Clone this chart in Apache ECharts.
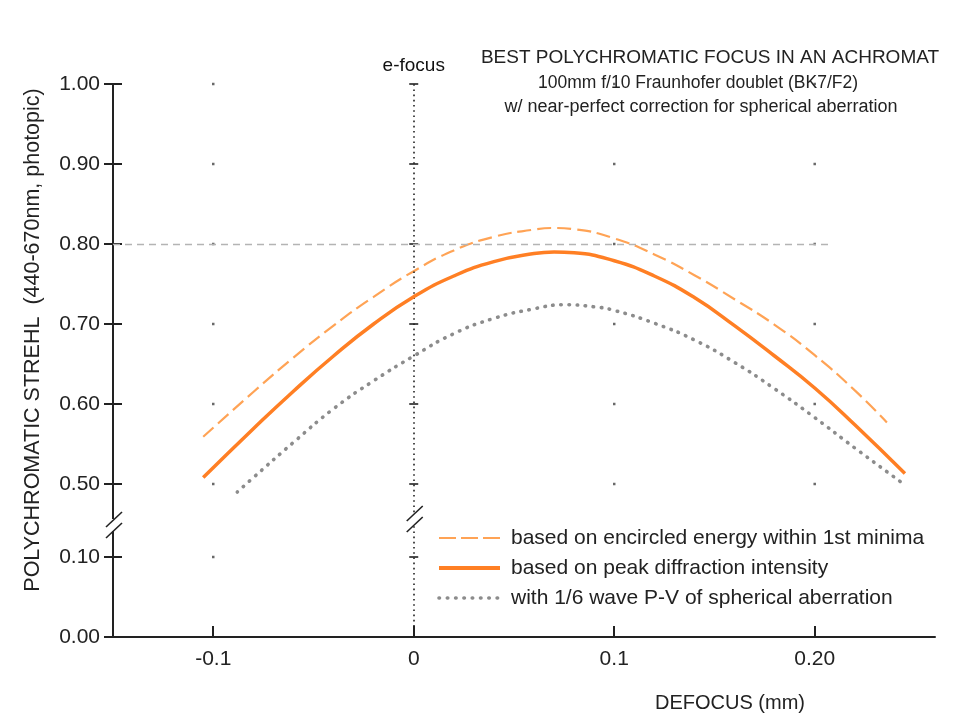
<!DOCTYPE html>
<html><head><meta charset="utf-8">
<script src="https://cdn.jsdelivr.net/npm/echarts@6/dist/echarts.min.js"></script>
<style>html,body{margin:0;padding:0;background:#fff}#c{width:953px;height:725px}</style>
</head><body><div id="c"></div>
<script>
// ---- data ----
const encX  = [-0.105, -0.08, -0.06, -0.04, -0.02, 0, 0.02, 0.04, 0.06, 0.07, 0.08, 0.10, 0.12, 0.14, 0.16, 0.18, 0.20, 0.22, 0.236];
const encY  = [0.559, 0.615, 0.658, 0.698, 0.734, 0.766, 0.792, 0.809, 0.818, 0.820, 0.8185, 0.807, 0.787, 0.761, 0.731, 0.699, 0.661, 0.617, 0.577];
const peakX = [-0.105, -0.08, -0.06, -0.04, -0.02, 0, 0.02, 0.04, 0.06, 0.07, 0.08, 0.10, 0.12, 0.14, 0.16, 0.18, 0.20, 0.22, 0.245];
const peakY = [0.508, 0.569, 0.616, 0.660, 0.700, 0.734, 0.760, 0.778, 0.788, 0.790, 0.789, 0.779, 0.760, 0.733, 0.698, 0.660, 0.620, 0.574, 0.513];
const sphX  = [-0.088, -0.08, -0.06, -0.04, -0.02, 0, 0.02, 0.04, 0.06, 0.075, 0.09, 0.10, 0.12, 0.14, 0.16, 0.18, 0.20, 0.22, 0.243];
const sphY  = [0.490, 0.508, 0.552, 0.594, 0.629, 0.660, 0.688, 0.707, 0.719, 0.724, 0.7215, 0.717, 0.701, 0.680, 0.652, 0.619, 0.583, 0.545, 0.5025];
const seriesNames = ['based on encircled energy within 1st minima', 'based on peak diffraction intensity', 'with 1/6 wave P-V of spherical aberration'];
const xTicks = [-0.1, 0, 0.1, 0.2];
const xTickLabels = ['-0.1', '0', '0.1', '0.20'];
const yTicks = [0, 0.1, 0.5, 0.6, 0.7, 0.8, 0.9, 1.0];
const yTickLabels = ['0.00', '0.10', '0.50', '0.60', '0.70', '0.80', '0.90', '1.00'];
const gridDotX = [-0.1, 0.1, 0.2];
const titleLines = ['BEST POLYCHROMATIC FOCUS IN AN ACHROMAT', '100mm f/10 Fraunhofer doublet (BK7/F2)', 'w/ near-perfect correction for spherical aberration'];
const xName = 'DEFOCUS (mm)';
const yName = 'POLYCHROMATIC STREHL  (440-670nm, photopic)';
const markerLabel = 'e-focus';
const refLine = 0.80;

// ---- broken axis transform ----
const BREAK_LO = 0.1, BREAK_HI = 0.5, GAP = 0.09125;
function d(v) { return v <= BREAK_LO ? v : v - BREAK_HI + BREAK_LO + GAP; }
const Y_MAX = d(1.0);
const FONT = '"Liberation Sans", Arial, sans-serif';
const INK = '#222';
const C_ENC = '#ffa355', C_PEAK = '#ff7f24', C_SPH = '#8c8c8c';
const ENC_DASH = [14, 6], SPH_DOT = [0.5, 7.6];

function pairs(xs, ys) { return xs.map((x, i) => [x, d(ys[i])]); }
function lookup(vals, labels) {
  return function (v) { for (let i = 0; i < vals.length; i++) if (Math.abs(vals[i] - v) < 1e-6) return labels[i]; return ''; };
}
const yTickPos = yTicks.map(d);
const yLabelFmt = lookup(yTickPos, yTickLabels);
const xLabelFmt = lookup(xTicks, xTickLabels);

const dots = [];
gridDotX.forEach(x => yTicks.filter(v => v >= BREAK_HI).forEach(v => dots.push([x, d(v)])));
dots.push([gridDotX[0], d(yTicks[1])]);
const efTicks = yTicks.filter(v => v > 0).map(v => [0, d(v)]);

const chart = echarts.init(document.getElementById('c'), null, { renderer: 'canvas' });
const yAxisBase = { type: 'value', min: 0, max: Y_MAX, position: 'left', splitLine: { show: false } };
chart.setOption({
  animation: false,
  backgroundColor: '#fff',
  textStyle: { fontFamily: FONT },
  grid: { left: 113, top: 84, right: 18, bottom: 88, containLabel: false },
  xAxis: {
    type: 'value', min: -0.15, max: 0.26,
    axisLine: { onZero: false, lineStyle: { color: INK, width: 2 } },
    axisTick: { inside: true, length: 11, customValues: xTicks, lineStyle: { color: INK, width: 2 } },
    axisLabel: { customValues: xTicks, formatter: xLabelFmt, margin: 12, fontSize: 21, color: INK, fontFamily: FONT },
    splitLine: { show: false }
  },
  yAxis: [
    Object.assign({}, yAxisBase, {
      axisLine: { show: true, onZero: false, lineStyle: { color: INK, width: 2 } },
      axisTick: { show: true, inside: true, length: 9, customValues: yTickPos, lineStyle: { color: INK, width: 2 } },
      axisLabel: { customValues: yTickPos, formatter: yLabelFmt, margin: 13, fontSize: 21, color: INK, fontFamily: FONT }
    }),
    Object.assign({}, yAxisBase, {
      axisLine: { show: false, onZero: false },
      axisTick: { show: true, inside: false, length: 9, customValues: yTickPos, lineStyle: { color: INK, width: 2 } },
      axisLabel: { show: false }
    })
  ],
  legend: {
    data: [
      { name: seriesNames[0], lineStyle: { type: [17, 5], width: 2.2, color: C_ENC } },
      { name: seriesNames[1], lineStyle: { width: 4, color: C_PEAK } },
      { name: seriesNames[2], lineStyle: { type: [0.5, 7.8], width: 3.6, cap: 'round', color: C_SPH } }
    ],
    orient: 'vertical', left: 437, top: 527, padding: 0, itemWidth: 61, itemHeight: 14, itemGap: 8,
    selectedMode: false,
    itemStyle: { opacity: 0 },
    textStyle: { fontSize: 21, color: INK, lineHeight: 22, fontFamily: FONT, padding: [0, 0, 0, 6] }
  },
  series: [
    {
      name: 'grid', type: 'scatter', symbol: 'rect', symbolSize: 2.5, silent: true,
      itemStyle: { color: '#444' }, data: dots, z: 1,
      markLine: {
        silent: true, symbol: ['none', 'none'], animation: false,
        data: [
          [
            { coord: [-0.15, d(refLine)], lineStyle: { color: '#b4b4b4', width: 1.3, type: [7, 5] }, label: { show: false } },
            { coord: [0.208, d(refLine)], lineStyle: { color: '#b4b4b4', width: 1.3, type: [7, 5] }, label: { show: false } }
          ],
          {
            xAxis: 0, lineStyle: { color: INK, width: 1.6, type: [1.6, 3.6] },
            label: { show: true, formatter: markerLabel, position: 'end', distance: 9, fontSize: 19, color: '#111', fontFamily: FONT }
          }
        ]
      }
    },
    {
      name: 'efticks', type: 'scatter', symbol: 'rect', symbolSize: [9, 2], silent: true,
      itemStyle: { color: INK }, data: efTicks, z: 3
    },
    {
      name: seriesNames[0], type: 'line', smooth: true, symbol: 'none', showSymbol: false,
      data: pairs(encX, encY), itemStyle: { color: C_ENC },
      lineStyle: { color: C_ENC, width: 2.2, type: ENC_DASH }, z: 4
    },
    {
      name: seriesNames[1], type: 'line', smooth: true, symbol: 'none', showSymbol: false,
      data: pairs(peakX, peakY), itemStyle: { color: C_PEAK },
      lineStyle: { color: C_PEAK, width: 3.5 }, z: 5
    },
    {
      name: seriesNames[2], type: 'line', smooth: true, symbol: 'none', showSymbol: false,
      data: pairs(sphX, sphY), itemStyle: { color: C_SPH },
      lineStyle: { color: C_SPH, width: 3.6, type: SPH_DOT, cap: 'round' }, z: 4
    }
  ]
});

// ---- decorations (titles, axis names, break marks) ----
const ax = chart.convertToPixel({ xAxisIndex: 0 }, -0.15);
const ex = chart.convertToPixel({ xAxisIndex: 0 }, 0);
const pAxis = chart.convertToPixel({ yAxisIndex: 0 }, 0.14);
const pEf = chart.convertToPixel({ yAxisIndex: 0 }, 0.1475);
function breakMark(cx, cy) {
  return [
    { type: 'rect', z: 100, shape: { x: cx - 4, y: cy - 6, width: 8, height: 12 }, style: { fill: '#fff' } },
    { type: 'line', z: 101, shape: { x1: cx - 7, y1: cy + 2, x2: cx + 9, y2: cy - 13 }, style: { stroke: INK, lineWidth: 1.6 } },
    { type: 'line', z: 101, shape: { x1: cx - 7, y1: cy + 13, x2: cx + 9, y2: cy - 2 }, style: { stroke: INK, lineWidth: 1.6 } }
  ];
}
function txt(text, x, y, size, rot) {
  return { type: 'text', z: 100, x: x, y: y, rotation: rot || 0,
    style: { text: text, fontSize: size, fontFamily: FONT, fill: INK, align: 'center', verticalAlign: 'middle' } };
}
chart.setOption({
  graphic: [
    txt(titleLines[0], 710, 58, 19),
    txt(titleLines[1], 698, 83, 17.5),
    txt(titleLines[2], 701, 107, 18),
    txt(xName, 730, 703, 20),
    txt(yName, 33, 340, 21.5, Math.PI / 2)
  ].concat(breakMark(ax, pAxis), breakMark(ex, pEf))
});
</script>
</body></html>
